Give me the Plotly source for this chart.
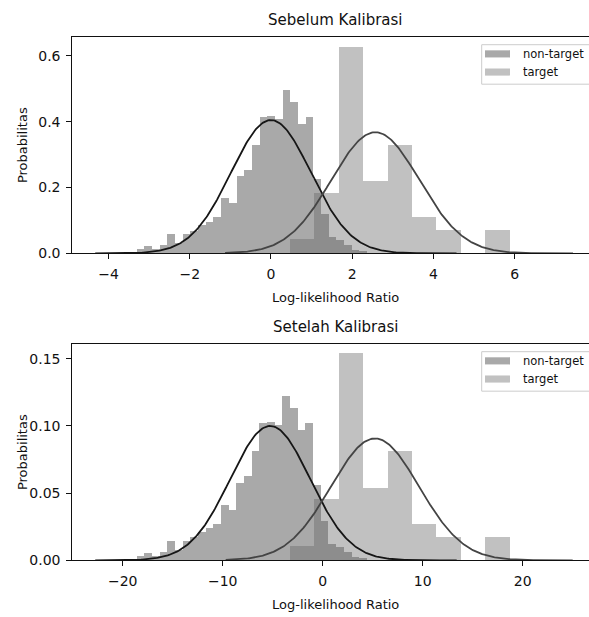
import numpy as np
import plotly.graph_objects as go

# ---------------- data ----------------
# Top panel: "Sebelum Kalibrasi"
top_nontarget_start = -3.677
top_nontarget_width = 0.189
top_nontarget_density = [0.003, 0.005, 0.014, 0.022, 0.013, 0.025, 0.06, 0.032, 0.06, 0.07,
                         0.087, 0.097, 0.11, 0.168, 0.153, 0.235, 0.255, 0.33, 0.415, 0.418,
                         0.41, 0.498, 0.46, 0.395, 0.415, 0.227, 0.12, 0.05, 0.042, 0.025,
                         0.01, 0.008, 0.003, 0.002]
top_target_start = 0.47
top_target_width = 0.602
top_target_density = [0.043, 0.185, 0.628, 0.22, 0.33, 0.11, 0.072, 0.0, 0.072]
# fitted normal: mean, std, curve start, curve end
top_nontarget_fit = [0.0, 0.985, -4.33, 4.57]
top_target_fit = [2.57, 1.084, -1.13, 7.44]

# Bottom panel: "Setelah Kalibrasi"
bot_nontarget_start = -20.10
bot_nontarget_width = 0.767
bot_nontarget_density = [0.0007, 0.0012, 0.0034, 0.0054, 0.0032, 0.0062, 0.0148, 0.0079, 0.0148, 0.0172,
                         0.0214, 0.0239, 0.0271, 0.0414, 0.0377, 0.0579, 0.0628, 0.0813, 0.1022, 0.1030,
                         0.1010, 0.1227, 0.1133, 0.0973, 0.1022, 0.0559, 0.0296, 0.0123, 0.0103, 0.0062,
                         0.0025, 0.0020, 0.0007, 0.0005]
bot_target_start = -3.26
bot_target_width = 2.444
bot_target_density = [0.0106, 0.0456, 0.1547, 0.0542, 0.0813, 0.0271, 0.0177, 0.0, 0.0177]
bot_nontarget_fit = [-5.25, 3.99, -22.75, 13.4]
bot_target_fit = [5.23, 4.40, -9.7, 25.0]

titles = ["Sebelum Kalibrasi", "Setelah Kalibrasi"]
legend_labels = ["non-target", "target"]
x_label = "Log-likelihood Ratio"
y_label = "Probabilitas"
top_xticks = [-4, -2, 0, 2, 4, 6]
top_yticks = [0.0, 0.2, 0.4, 0.6]
bot_xticks = [-20, -10, 0, 10, 20]
bot_yticks = [0.0, 0.05, 0.10, 0.15]

# ---------------- layout geometry ----------------
W, H = 589, 617
FONT = "DejaVu Sans"
NT_COLOR = "rgba(40,40,40,0.4)"
T_COLOR = "rgba(100,100,100,0.4)"
NT_LEG = "#a9a9a9"
T_LEG = "#c1c1c1"


def px(x):
    return x / W


def py(y):
    return (H - y) / H


def centers(start, width, n):
    return start + width * (np.arange(n) + 0.5)


def normal_curve(fit):
    mu, sd, lo, hi = fit
    xs = np.linspace(lo, hi, 300)
    return xs, np.exp(-0.5 * ((xs - mu) / sd) ** 2) / (sd * np.sqrt(2 * np.pi))


fig = go.Figure()

panels = [
    dict(xa="x", ya="y", nts=top_nontarget_start, ntw=top_nontarget_width, ntd=top_nontarget_density,
         ts=top_target_start, tw=top_target_width, td=top_target_density,
         ntf=top_nontarget_fit, tf=top_target_fit),
    dict(xa="x2", ya="y2", nts=bot_nontarget_start, ntw=bot_nontarget_width, ntd=bot_nontarget_density,
         ts=bot_target_start, tw=bot_target_width, td=bot_target_density,
         ntf=bot_nontarget_fit, tf=bot_target_fit),
]

for p in panels:
    fig.add_trace(go.Bar(x=centers(p["nts"], p["ntw"], len(p["ntd"])), y=p["ntd"], width=p["ntw"],
                         marker=dict(color=NT_COLOR, line=dict(width=0)),
                         xaxis=p["xa"], yaxis=p["ya"], showlegend=False, name=legend_labels[0]))
    fig.add_trace(go.Bar(x=centers(p["ts"], p["tw"], len(p["td"])), y=p["td"], width=p["tw"],
                         marker=dict(color=T_COLOR, line=dict(width=0)),
                         xaxis=p["xa"], yaxis=p["ya"], showlegend=False, name=legend_labels[1]))
    xs, ys = normal_curve(p["ntf"])
    fig.add_trace(go.Scatter(x=xs, y=ys, mode="lines", line=dict(color="#161616", width=1.8),
                             xaxis=p["xa"], yaxis=p["ya"], showlegend=False))
    xs, ys = normal_curve(p["tf"])
    fig.add_trace(go.Scatter(x=xs, y=ys, mode="lines", line=dict(color="#444444", width=1.8),
                             xaxis=p["xa"], yaxis=p["ya"], showlegend=False))

axis_common = dict(showline=True, linecolor="#111111", linewidth=1, ticks="outside", ticklen=5,
                   tickwidth=1, tickcolor="#111111", showgrid=False, zeroline=False,
                   ticklabelstandoff=3,
                   tickfont=dict(family=FONT, size=14, color="#111111"))

# panel pixel boxes
top_box = (72.3, 37.3, 589, 256.7)
bot_box = (72.3, 348.3, 589, 567.7)

fig.update_layout(
    width=W, height=H, margin=dict(l=0, r=0, t=0, b=0),
    paper_bgcolor="white", plot_bgcolor="white", barmode="overlay", bargap=0,
    xaxis=dict(domain=[px(top_box[0]), px(top_box[2])], range=[-4.894, 7.833], anchor="y",
               tickvals=top_xticks, mirror=True, **axis_common),
    yaxis=dict(domain=[py(top_box[3]), py(top_box[1])], range=[0, 0.658], anchor="x",
               tickvals=top_yticks, tickformat=".1f", **axis_common),
    xaxis2=dict(domain=[px(bot_box[0]), px(bot_box[2])], range=[-25.04, 26.63], anchor="y2",
                tickvals=bot_xticks, mirror=True, **axis_common),
    yaxis2=dict(domain=[py(bot_box[3]), py(bot_box[1])], range=[0, 0.1611], anchor="x2",
                tickvals=bot_yticks, tickformat=".2f", **axis_common),
)

annotations = []
shapes = []
for i, box in enumerate([top_box, bot_box]):
    x0, y0, x1, y1 = box
    cx = 335
    annotations.append(dict(text=titles[i], x=px(cx), y=py(y0 - 17.5), xref="paper", yref="paper",
                            xanchor="center", yanchor="middle", showarrow=False,
                            font=dict(family=FONT, size=15, color="#111111")))
    annotations.append(dict(text=x_label, x=px(cx), y=py(y1 + 45), xref="paper", yref="paper",
                            xanchor="center", yanchor="middle", showarrow=False,
                            font=dict(family=FONT, size=13, color="#111111")))
    annotations.append(dict(text=y_label, x=px(22), y=py((y0 + y1) / 2), xref="paper", yref="paper",
                            xanchor="center", yanchor="middle", showarrow=False, textangle=-90,
                            font=dict(family=FONT, size=13, color="#111111")))
    # legend box
    ly = y0 + 8
    shapes.append(dict(type="rect", xref="paper", yref="paper", x0=px(481.7), x1=px(600),
                       y0=py(ly + 40), y1=py(ly), line=dict(color="#cccccc", width=1),
                       fillcolor="rgba(255,255,255,0.8)", layer="above"))
    for j, col in enumerate([NT_LEG, T_LEG]):
        cy = ly + 9.3 + j * 18.4
        shapes.append(dict(type="rect", xref="paper", yref="paper", x0=px(485), x1=px(510),
                           y0=py(cy + 3.6), y1=py(cy - 3.6), line=dict(width=0),
                           fillcolor=col, layer="above"))
        annotations.append(dict(text=legend_labels[j], x=px(520.5), y=py(cy), xref="paper", yref="paper",
                                xanchor="left", yanchor="middle", showarrow=False,
                                font=dict(family=FONT, size=11.5, color="#111111")))

fig.update_layout(annotations=annotations, shapes=shapes)
fig.write_html(
    "out.html",
    config={"displayModeBar": False},
    post_script="document.body.style.margin='0';document.body.style.overflow='hidden';"
                "document.documentElement.style.overflow='hidden';",
)
